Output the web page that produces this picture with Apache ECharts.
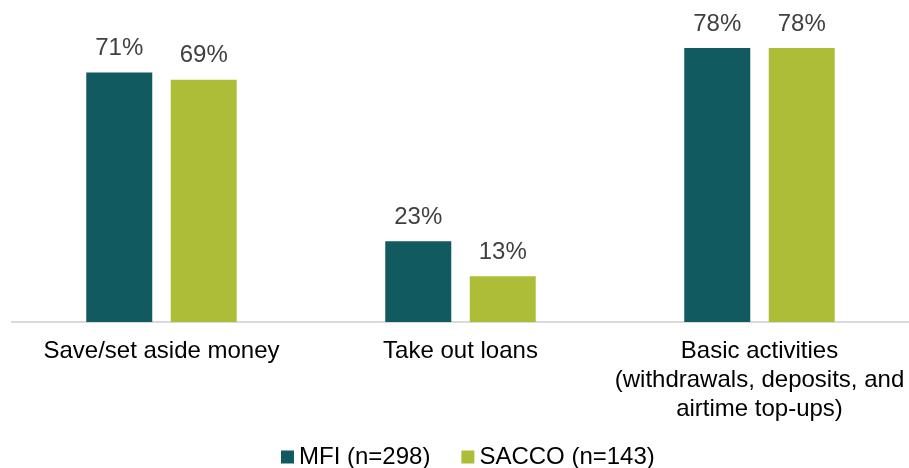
<!DOCTYPE html>
<html>
<head>
<meta charset="utf-8">
<script src="https://cdn.jsdelivr.net/npm/echarts@6/dist/echarts.min.js"></script>
<style>html,body{margin:0;padding:0;background:#fff}#c{width:909px;height:468px}</style>
</head>
<body>
<div id="c"></div>
<script>
const categories = ['Save/set aside money', 'Take out loans', 'Basic activities\n(withdrawals, deposits, and\nairtime top-ups)'];
const seriesNames = ['MFI (n=298)', 'SACCO (n=143)'];
const mfiValues = [71, 23, 78];
const saccoValues = [69, 13, 78];
const colors = ['#115a60', '#aebd38'];

const font = '"Liberation Sans", Arial, sans-serif';
const chart = echarts.init(document.getElementById('c'), null, {renderer: 'canvas'});
const mkSeries = (name, data, color) => ({
  name, type: 'bar', data, barWidth: 66, barGap: '28%',
  itemStyle: {color},
  label: {show: true, position: 'top', distance: 12, formatter: '{c}%', color: '#404040', fontSize: 24, fontFamily: font},
  emphasis: {disabled: true}
});
chart.setOption({
  animation: false,
  color: colors,
  textStyle: {fontFamily: font},
  grid: {left: 12, right: -3, top: 41, bottom: 146, containLabel: false},
  legend: {
    data: seriesNames, top: 440, left: 276, icon: 'rect', itemWidth: 13, itemHeight: 13, itemGap: 31,
    textStyle: {fontSize: 24, color: '#000', fontFamily: font}
  },
  xAxis: {
    type: 'category', data: categories,
    axisLine: {lineStyle: {color: '#d9d9d9', width: 2}},
    axisTick: {show: false},
    axisLabel: {fontSize: 24, color: '#000', lineHeight: 29, margin: 15, interval: 0, fontFamily: font}
  },
  yAxis: {type: 'value', min: 0, max: 80, show: false, splitLine: {show: false}},
  series: [mkSeries(seriesNames[0], mfiValues, colors[0]), mkSeries(seriesNames[1], saccoValues, colors[1])]
});
</script>
</body>
</html>
